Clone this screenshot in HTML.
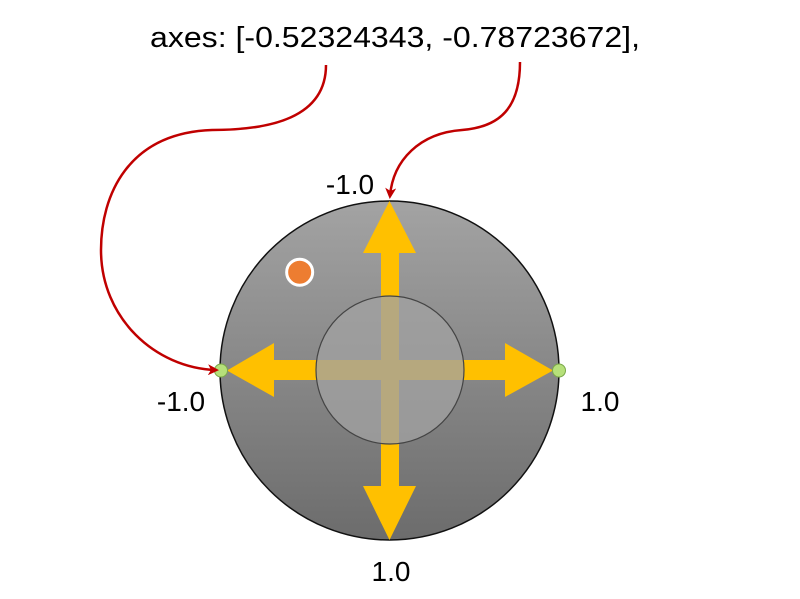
<!DOCTYPE html>
<html><head><meta charset="utf-8"><style>
html,body{margin:0;padding:0;background:#fff;width:800px;height:599px;overflow:hidden}
svg{display:block}
text{font-family:"Liberation Sans",sans-serif;fill:#000}
</style></head><body>
<svg id="chart" width="800" height="599" viewBox="0 0 800 599">
<defs>
<linearGradient id="g" x1="0" y1="0" x2="0" y2="1">
<stop offset="0" stop-color="#a3a3a3"/><stop offset="1" stop-color="#6c6c6c"/>
</linearGradient>
<marker id="ah" markerWidth="11" markerHeight="11" refX="8" refY="5.5" orient="auto" markerUnits="userSpaceOnUse" viewBox="0 0 11 11">
<path d="M0,0 L11,5.5 L0,11 L3,5.5 Z" fill="#c00000"/>
</marker>
</defs>
<text x="395" y="47" font-size="29" text-anchor="middle" textLength="490" lengthAdjust="spacingAndGlyphs">axes: [-0.52324343, -0.78723672],</text>
<circle cx="389.5" cy="370.5" r="169.5" fill="url(#g)" stroke="#111" stroke-width="1.5"/>
<g fill="#ffc000">
<path d="M381,253 L363,253 L389.5,201 L416,253 L399,253 L399,486 L416,486 L389.5,540 L363,486 L381,486 Z"/>
<path d="M274,360 L274,343 L227,370.5 L274,397 L274,380 L505,380 L505,397 L553,370.5 L505,343 L505,360 Z"/>
</g>
<circle cx="390" cy="370" r="74" fill="#a2a2a2" fill-opacity="0.78" stroke="#444" stroke-width="1.2"/>
<circle cx="221" cy="370.5" r="6.5" fill="#b6e07a" stroke="#7aa84a" stroke-width="1"/>
<circle cx="559" cy="370.5" r="6.5" fill="#b6e07a" stroke="#7aa84a" stroke-width="1"/>
<path d="M326,65 C326,118 270,130 212,130 C128,133 101,195 101,250 C101,318 155,368 216,370" fill="none" stroke="#c00000" stroke-width="2.5" marker-end="url(#ah)"/>
<path d="M520,62 C520,108 500,127 462,130 C420,133 393,160 390,196" fill="none" stroke="#c00000" stroke-width="2.5" marker-end="url(#ah)"/>
<text x="350" y="194" font-size="28" text-anchor="middle">-1.0</text>
<text x="181" y="411" font-size="28" text-anchor="middle">-1.0</text>
<text x="600" y="411" font-size="28" text-anchor="middle">1.0</text>
<text x="391" y="581" font-size="28" text-anchor="middle">1.0</text>
</svg>
<script>
const dotX = [-0.53];
const dotY = [-0.58];
const cx = 389.5, cy = 370.5, R = 169.5;
const svg = document.getElementById('chart');
for (let i = 0; i < dotX.length; i++) {
  const c = document.createElementNS('http://www.w3.org/2000/svg', 'circle');
  c.setAttribute('cx', cx + dotX[i] * R);
  c.setAttribute('cy', cy + dotY[i] * R);
  c.setAttribute('r', 13);
  c.setAttribute('fill', '#ed7d31');
  c.setAttribute('stroke', '#fff');
  c.setAttribute('stroke-width', 3);
  
  
  svg.appendChild(c);
}
</script>
</body></html>
